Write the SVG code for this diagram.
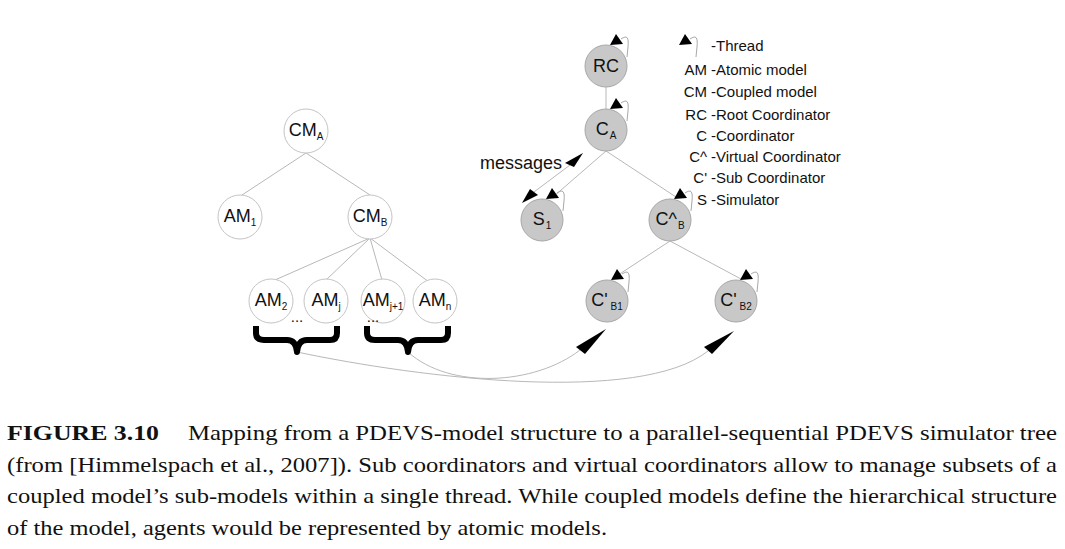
<svg xmlns="http://www.w3.org/2000/svg" width="1065" height="549" viewBox="0 0 1065 549">
<defs>
<style>
.wn{fill:#ffffff;stroke:#c4c4c4;stroke-width:1}
.gn{fill:#c8c8c8;stroke:#a8a8a8;stroke-width:1}
.lbl{font-family:"Liberation Sans",Arial,sans-serif;font-size:18px;fill:#111;text-anchor:middle}
.sub{font-size:10px}
.edge{stroke:#b8b8b8;stroke-width:1;fill:none}
.loop{stroke:#a8a8a8;stroke-width:1;fill:none}
.ah{fill:#000}
.brace{stroke:#000;stroke-width:6;fill:none;stroke-linejoin:round}
.leg{font-family:"Liberation Sans",Arial,sans-serif;font-size:15px;fill:#111}
.cap{font-family:"Liberation Serif","Times New Roman",serif;font-size:22px;fill:#111}
</style>
<g id="thread">
<polygon class="ah" points="10,-32 4,-21 17,-22"/>
<path class="loop" d="M15,-27 C21,-31 23,-29 22,-19 L21,-9"/>
</g>
</defs>

<g id="connectors">
<line class="edge" x1="306" y1="153" x2="242" y2="195"/>
<line class="edge" x1="306" y1="153" x2="370" y2="195"/>
<line class="edge" x1="370" y1="238" x2="275" y2="280"/>
<line class="edge" x1="370" y1="238" x2="326" y2="280"/>
<line class="edge" x1="370" y1="238" x2="382" y2="280"/>
<line class="edge" x1="370" y1="238" x2="433" y2="285"/>
<line class="edge" x1="606" y1="87" x2="606" y2="109"/>
<line class="edge" x1="606" y1="151" x2="553" y2="197"/>
<line class="edge" x1="606" y1="151" x2="676" y2="197"/>
<line class="edge" x1="670" y1="241" x2="612" y2="279"/>
<line class="edge" x1="670" y1="241" x2="741" y2="279"/>
<line class="edge" x1="570" y1="165" x2="534" y2="192"/>
<polygon class="ah" points="583,153 565,163 574,167"/>
<polygon class="ah" points="522,203 530,189 538,195"/>
<path class="edge" d="M297,352 C420,378 640,405 708,351"/>
<path class="edge" d="M408,352 C450,390 535,385 580,350"/>
<polygon class="ah" points="606,329 576,347 585,354"/>
<polygon class="ah" points="734,331 704,347 712,354"/>
</g>

<g id="braces">
<path class="brace" d="M256,326 L256,333 Q256,340 264,340 L287,340 Q296,340 297,352 Q298,340 307,340 L330,340 Q337,340 337,333 L337,326"/>
<path class="brace" d="M367,326 L367,333 Q367,340 375,340 L398,340 Q407,340 408,352 Q409,340 418,340 L441,340 Q448,340 448,333 L448,326"/>
</g>

<g id="CM_A"><circle class="wn" cx="306" cy="131" r="22"/><text class="lbl" x="306" y="136">CM<tspan class="sub" dy="4">A</tspan></text></g>
<g id="AM_1"><circle class="wn" cx="240" cy="217" r="22"/><text class="lbl" x="240" y="222">AM<tspan class="sub" dy="4">1</tspan></text></g>
<g id="CM_B"><circle class="wn" cx="370" cy="217" r="22"/><text class="lbl" x="370" y="222">CM<tspan class="sub" dy="4">B</tspan></text></g>
<g id="AM_2"><circle class="wn" cx="271" cy="301" r="22"/><text class="lbl" x="271" y="306">AM<tspan class="sub" dy="4">2</tspan></text></g>
<g id="AM_j"><circle class="wn" cx="326" cy="301" r="22"/><text class="lbl" x="326" y="306">AM<tspan class="sub" dy="4">j</tspan></text></g>
<g id="AM_j1"><circle class="wn" cx="383" cy="301" r="22"/><text class="lbl" x="383" y="306">AM<tspan class="sub" dy="4">j+1</tspan></text></g>
<g id="AM_n"><circle class="wn" cx="435" cy="301" r="22"/><text class="lbl" x="435" y="306">AM<tspan class="sub" dy="4">n</tspan></text></g>

<g id="ellipses">
<text class="leg" x="297" y="322" text-anchor="middle">...</text>
<text class="leg" x="373" y="322" text-anchor="middle">...</text>
</g>

<g id="RC"><circle class="gn" cx="606" cy="66" r="21"/><text class="lbl" x="606" y="72">RC</text><use href="#thread" x="606" y="66"/></g>
<g id="C_A"><circle class="gn" cx="606" cy="130" r="21"/><text class="lbl" x="606" y="135">C<tspan class="sub" dy="4" dx="1">A</tspan></text><use href="#thread" x="606" y="130"/></g>
<g id="S_1"><circle class="gn" cx="542" cy="220" r="21"/><text class="lbl" x="542" y="225">S<tspan class="sub" dy="4" dx="1">1</tspan></text><use href="#thread" x="542" y="220"/></g>
<g id="Cv_B"><circle class="gn" cx="670" cy="220" r="21"/><text class="lbl" x="670" y="225">C^<tspan class="sub" dy="4" dx="1">B</tspan></text><use href="#thread" x="670" y="220"/></g>
<g id="Cs_B1"><circle class="gn" cx="607" cy="301" r="21"/><text class="lbl" x="607" y="306">C'<tspan class="sub" dy="4" dx="3">B1</tspan></text><use href="#thread" x="607" y="301"/></g>
<g id="Cs_B2"><circle class="gn" cx="736" cy="301" r="21"/><text class="lbl" x="736" y="306">C'<tspan class="sub" dy="4" dx="3">B2</tspan></text><use href="#thread" x="736" y="301"/></g>

<g id="messages-label"><text class="lbl" x="521" y="169" style="font-size:18px">messages</text></g>

<g id="legend">
<use href="#thread" x="675" y="66"/>
<text class="leg" x="711" y="51">-Thread</text>
<text class="leg" x="707" y="75" text-anchor="end">AM</text><text class="leg" x="711" y="75">-Atomic model</text>
<text class="leg" x="707" y="97" text-anchor="end">CM</text><text class="leg" x="711" y="97">-Coupled model</text>
<text class="leg" x="707" y="120" text-anchor="end">RC</text><text class="leg" x="711" y="120">-Root Coordinator</text>
<text class="leg" x="707" y="141" text-anchor="end">C</text><text class="leg" x="711" y="141">-Coordinator</text>
<text class="leg" x="707" y="162" text-anchor="end">C^</text><text class="leg" x="711" y="162">-Virtual Coordinator</text>
<text class="leg" x="707" y="183" text-anchor="end">C'</text><text class="leg" x="711" y="183">-Sub Coordinator</text>
<text class="leg" x="707" y="205" text-anchor="end">S</text><text class="leg" x="711" y="205">-Simulator</text>
</g>

<g id="caption">
<text class="cap" x="7" y="440" font-weight="bold" textLength="152" lengthAdjust="spacingAndGlyphs">FIGURE 3.10</text>
<text class="cap" x="188" y="440" textLength="869" lengthAdjust="spacingAndGlyphs">Mapping from a PDEVS-model structure to a parallel-sequential PDEVS simulator tree</text>
<text class="cap" x="7" y="472" textLength="1050" lengthAdjust="spacingAndGlyphs">(from [Himmelspach et al., 2007]). Sub coordinators and virtual coordinators allow to manage subsets of a</text>
<text class="cap" x="7" y="503" textLength="1050" lengthAdjust="spacingAndGlyphs">coupled model’s sub-models within a single thread. While coupled models define the hierarchical structure</text>
<text class="cap" x="7" y="535" textLength="600" lengthAdjust="spacingAndGlyphs">of the model, agents would be represented by atomic models.</text>
</g>
</svg>
